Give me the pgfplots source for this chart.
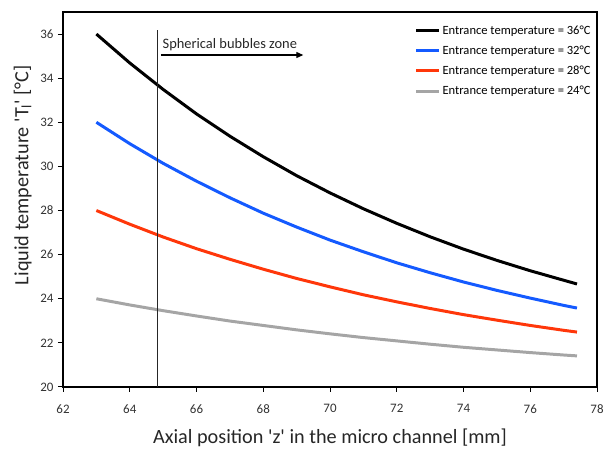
\documentclass[border=0pt]{standalone}
\usepackage{pgfplots}
\pgfplotsset{compat=1.18}
\usepackage{fontspec}
\setmainfont{Carlito}
\usetikzlibrary{arrows.meta,calc}

\definecolor{cblue}{RGB}{20,90,255}
\definecolor{cred}{RGB}{255,55,10}
\definecolor{cgray}{RGB}{165,165,165}

\begin{document}
\begin{tikzpicture}
  \begin{axis}[
    name=ax,
    scale only axis,
    width=534bp, height=375bp,
    xmin=62, xmax=78, ymin=20, ymax=37,
    xtick={62,64,...,78},
    ytick={20,22,...,36},
    xtick pos=left, ytick pos=left,
    tick align=outside,
    major tick length=5bp,
    axis line style={line width=1.1pt},
    tick style={line width=1pt, black},
    /pgf/number format/assume math mode=true,
    tick label style={font=\fontsize{13}{15}\selectfont, color=black!80},
    xticklabel style={yshift=-9bp},
    yticklabel style={xshift=-1bp},
    xlabel={Axial position \textquotesingle z\textquotesingle\ in the micro channel [mm]},
    ylabel={Liquid temperature \textquotesingle T\textsubscript{l}\textquotesingle\ [°C]},
    label style={font=\fontsize{20.3}{22}\selectfont, color=black!85},
    xlabel style={yshift=-9bp},
    ylabel style={at={(ticklabel cs:0.565)}, yshift=2bp},
    legend style={draw=none, fill=none, at={(0.992,0.970)}, anchor=north east,
      font=\fontsize{12.6}{14}\selectfont, row sep=6.2bp, inner sep=0pt},
    legend cell align=left,
    legend image code/.code={\draw[#1] (0bp,0bp) -- (23bp,0bp);},
    clip=false,
  ]
  \addplot[black, line width=3pt] coordinates {
    (63,36.00) (64,34.69) (65,33.49) (66,32.38) (67,31.37) (68,30.44)
    (69,29.58) (70,28.80) (71,28.08) (72,27.42) (73,26.81) (74,26.25)
    (75,25.74) (76,25.27) (77,24.84) (77.4,24.67)
  };
  \addlegendentry{Entrance temperature = 36°C}
  \addplot[cblue, line width=3pt] coordinates {
    (63,32.00) (64,31.03) (65,30.14) (66,29.33) (67,28.58) (68,27.88)
    (69,27.25) (70,26.66) (71,26.13) (72,25.63) (73,25.18) (74,24.76)
    (75,24.38) (76,24.03) (77,23.70) (77.4,23.58)
  };
  \addlegendentry{Entrance temperature = 32°C}
  \addplot[cred, line width=3pt] coordinates {
    (63,28.00) (64,27.38) (65,26.80) (66,26.27) (67,25.79) (68,25.34)
    (69,24.92) (70,24.54) (71,24.18) (72,23.86) (73,23.56) (74,23.28)
    (75,23.03) (76,22.79) (77,22.57) (77.4,22.49)
  };
  \addlegendentry{Entrance temperature = 28°C}
  \addplot[cgray, line width=3pt] coordinates {
    (63,24.00) (64,23.72) (65,23.46) (66,23.22) (67,22.99) (68,22.79)
    (69,22.59) (70,22.41) (71,22.24) (72,22.09) (73,21.94) (74,21.80)
    (75,21.68) (76,21.56) (77,21.45) (77.4,21.41)
  };
  \addlegendentry{Entrance temperature = 24°C}
  % zone boundary and arrow
  \addplot[black!85, line width=1.3pt, forget plot] coordinates {(64.84,20) (64.84,36.2)};
  \addplot[black, line width=1.2pt, -{Triangle[length=7bp,width=6bp]}, forget plot]
    coordinates {(64.93,35.05) (69.2,35.05)};
  \node[anchor=south west, inner sep=0pt, font=\fontsize{14.5}{16}\selectfont, text=black!85]
    at (axis cs:64.98,35.25) {Spherical bubbles zone};
  \end{axis}
  \path[use as bounding box] ($(ax.south west)+(-63bp,-63bp)$) rectangle ($(ax.north east)+(14bp,12bp)$);
\end{tikzpicture}
\end{document}
